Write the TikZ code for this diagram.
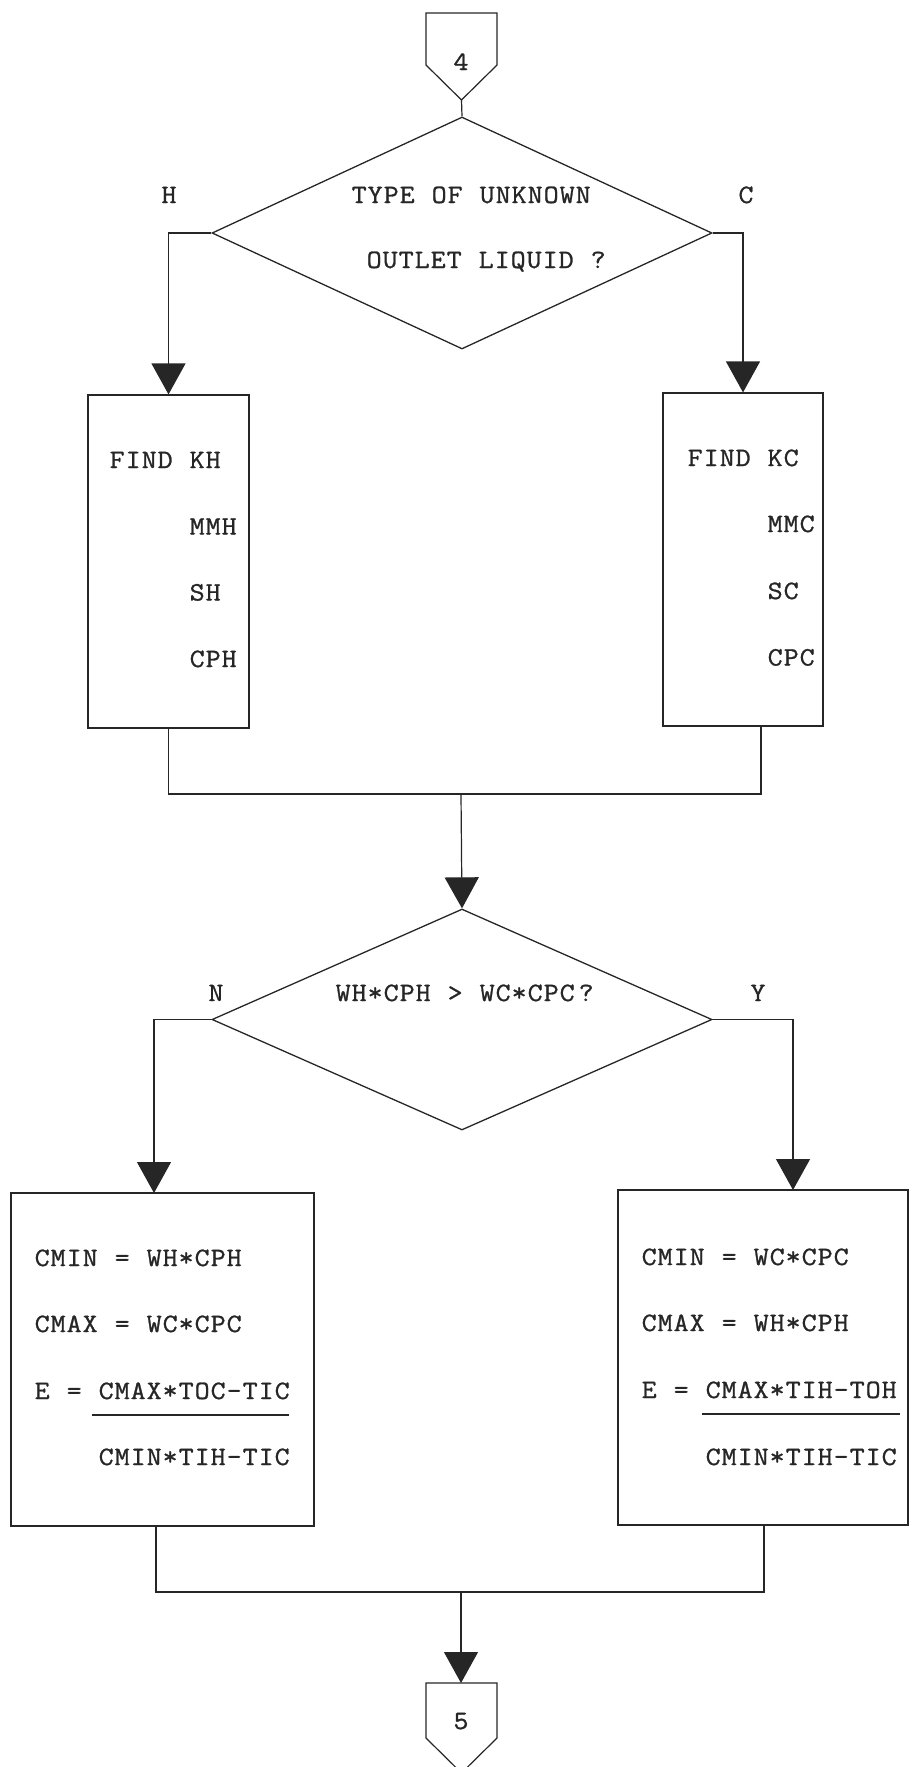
\documentclass[tikz,border=0pt]{standalone}
\usepackage{fontspec}
\usetikzlibrary{shapes.geometric,arrows.meta}
\newfontfamily\prfont{Latin Modern Mono}[FakeStretch=1.1,FakeBold=1]
\definecolor{ink}{gray}{0.15}
% fixed-pitch printer text: every character sits in a 16pt cell
\newcommand\prcell[1]{\makebox[16pt]{#1}}
\makeatletter
\def\pr@loop#1{\ifx#1\relax\else\prcell{#1}\expandafter\pr@loop\fi}
\newcommand\pr[1]{\pr@loop#1\relax}
\makeatother
\begin{document}
\begin{tikzpicture}[x=1pt,y=-1pt,
  flow/.style={draw=ink,line width=1.2pt},
  arr/.style={flow,-{Triangle[length=31pt,width=34pt]}},
  box/.style={draw=ink,line width=1.2pt,rectangle,inner sep=0pt},
  dec/.style={draw=ink,line width=1.3pt,diamond,inner sep=0pt},
  txt/.style={inner sep=0pt,anchor=base west,text=ink,
    font=\prfont\fontsize{26.5pt}{26.5pt}\selectfont},
  lbl/.style={txt,anchor=base}]
\useasboundingbox (0,0) rectangle (912,1767);

% off-page connector 4
\draw[flow] (426,13) -- (497,13) -- (497,65) -- (461.5,100) -- (426,65) -- cycle;
\node[lbl] (n4) at (461,70) {4};
\coordinate (c4tip) at (461.5,100);

% first decision
\node[dec,minimum width=500pt,minimum height=232pt] (d1) at (462,233) {};
\node[txt] (d1a) at (351,203) {\pr{TYPE~OF~UNKNOWN}};
\node[txt] (d1b) at (366,268) {\pr{OUTLET~LIQUID~?}};
\node[lbl] (lh) at (169,203) {H};
\node[lbl] (lc) at (746,203) {C};

% property boxes
\node[box,minimum width=161pt,minimum height=333pt] (kh) at (168.5,561.5) {};
\node[box,minimum width=160pt,minimum height=333pt] (kc) at (743,559.5) {};
\node[txt] (kh1) at (109,468) {\pr{FIND~KH}};
\node[txt] (kh2) at (189,534.5) {\pr{MMH}};
\node[txt] (kh3) at (189,600.5) {\pr{SH}};
\node[txt] (kh4) at (189,667) {\pr{CPH}};
\node[txt] (kc1) at (687,466) {\pr{FIND~KC}};
\node[txt] (kc2) at (767,532) {\pr{MMC}};
\node[txt] (kc3) at (767,599) {\pr{SC}};
\node[txt] (kc4) at (767,665.5) {\pr{CPC}};
\coordinate (kcout) at (761,726);
\coordinate (m1) at (461,794);

% second decision
\node[dec,minimum width=500pt,minimum height=221pt] (d2) at (462,1019.5) {};
\node[txt] (d2a) at (335,1001) {\pr{WH*CPH~>~WC*CPC}\hspace{3pt}\pr{?}};
\node[lbl] (ln) at (216,1001) {N};
\node[lbl] (ly) at (758,1001) {Y};

% capacity-rate boxes
\node[box,minimum width=303pt,minimum height=333pt] (nb) at (162.5,1359.5) {};
\node[box,minimum width=290pt,minimum height=335pt] (yb) at (763,1357.5) {};
\coordinate (nin) at (154,1193);
\coordinate (yin) at (793,1190);
\coordinate (nout) at (156,1526);
\coordinate (yout) at (764,1525);
\node[txt] (nb1) at (34,1266) {\pr{CMIN~=~WH*CPH}};
\node[txt] (nb2) at (34,1332) {\pr{CMAX~=~WC*CPC}};
\node[txt] (nb3) at (34,1399) {\pr{E~=~CMAX*TOC-TIC}};
\node[txt] (nb4) at (98,1465) {\pr{CMIN*TIH-TIC}};
\node[txt] (yb1) at (641,1265) {\pr{CMIN~=~WC*CPC}};
\node[txt] (yb2) at (641,1331) {\pr{CMAX~=~WH*CPH}};
\node[txt] (yb3) at (641,1398) {\pr{E~=~CMAX*TIH-TOH}};
\node[txt] (yb4) at (705,1465) {\pr{CMIN*TIH-TIC}};
\draw[draw=ink,line width=1.6pt] (92,1415) -- (289,1415);
\draw[draw=ink,line width=1.6pt] (702,1414) -- (900,1414);
\coordinate (m2) at (461,1592);

% off-page connector 5
\draw[flow] (426,1683) -- (497,1683) -- (497,1738) -- (461.5,1773) -- (426,1738) -- cycle;
\node[lbl] (n5) at (461,1729) {5};
\coordinate (c5top) at (461,1683);

% connectors
\draw[flow] (c4tip) -- (d1.north);
\draw[arr] (d1.west) -| (kh.north);
\draw[arr] (d1.east) -| (kc.north);
\draw[flow] (kh.south) |- (m1) -| (kcout);
\draw[arr] (m1) -- (d2.north);
\draw[arr] (d2.west) -| (nin);
\draw[arr] (d2.east) -| (yin);
\draw[flow] (nout) |- (m2) -| (yout);
\draw[arr] (m2) -- (c5top);
\end{tikzpicture}
\end{document}
